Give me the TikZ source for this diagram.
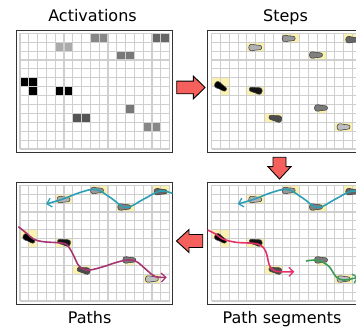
\documentclass[tikz,border=0pt]{standalone}
\usepackage{fontspec}
\setmainfont{DejaVu Sans}
\usetikzlibrary{arrows.meta}
\definecolor{hl}{HTML}{FBF1B0}
\definecolor{gridc}{HTML}{CFCFCF}
\definecolor{arrowred}{HTML}{F6605C}
\definecolor{tealc}{HTML}{2C9FB5}
\definecolor{berry}{HTML}{A83472}
\definecolor{pinkc}{HTML}{E5336A}
\definecolor{greenc}{HTML}{3B9B55}
\tikzset{
  gridline/.style={draw=gridc, line width=1.1pt},
  panelborder/.style={draw=black!80, line width=0.8pt},
  footline/.style={draw=black!75, line width=0.55pt},
  blockarrow/.style={fill=arrowred, draw=black, line width=0.9pt, line join=miter},
  curve/.style={line width=1.6pt, -{Straight Barb[length=4.5pt,width=9pt,line width=1.3pt]}},
  titletext/.style={anchor=base, inner sep=0pt, font=\fontsize{16}{19}\selectfont},
  pics/foot/.style={code={
    \filldraw[footline, fill=#1] (-0.74,0) .. controls (-0.74,-0.42) and (-0.35,-0.42) .. (-0.05,-0.3)
      .. controls (0.25,-0.2) and (0.74,-0.37) .. (0.74,0)
      .. controls (0.74,0.37) and (0.25,0.2) .. (-0.05,0.3)
      .. controls (-0.35,0.42) and (-0.74,0.42) .. cycle;}}
}
\newcommand\actcell[3]{\fill[#3] (#1,#2) rectangle ++(1,1);}
\newcommand\gridlines{%
  \foreach \k in {0,...,17} {\draw[gridline] (\k,0) -- (\k,13);}
  \foreach \j in {0,...,13} {\draw[gridline] (0,\j) -- (17,\j);}
  \draw[panelborder] (-0.45,-0.29) rectangle (17.35,13.34);}
\newcommand\hlcells{%
  \foreach \a/\b in {8/0,9/0,15/0,16/0,4/1,5/1,11/2,12/2,0/5,1/5,1/6,4/6,5/6,12/8,6/9,7/9,14/10,15/10}
    {\actcell{\a}{\b}{hl}}}
\newcommand\feet{%
  \pic at (8.75,0.58) {foot=black!40};
  \pic at (15.97,0.72) {foot=black!60};
  \pic at (4.95,1.6) {foot=black!30};
  \pic at (11.85,2.44) {foot=black!50};
  \pic[rotate=-32] at (1.02,6.0) {foot=black};
  \pic[rotate=168] at (5.0,6.4) {foot=black!92};
  \pic at (12.42,8.39) {foot=black!52};
  \pic[rotate=168] at (7.23,9.55) {foot=black!70};
  \pic at (14.98,10.53) {foot=black!25};}
\newcommand\tealcurve{%
  \draw[curve, tealc] plot[smooth, tension=0.6] coordinates {(172.5,193.5) (160,191) (143,199.5) (126,207.5) (111,198) (96,189.5) (80,192.5) (63,199) (46,204)};}
\begin{document}
\begin{tikzpicture}[x=1pt,y=-1pt]
\useasboundingbox (0,0) rectangle (356,331);
\clip (0,0) rectangle (356,331);
% Panel A: Activations
\begin{scope}[shift={(20,33.3)}, x=8.8pt, y=-8.9pt]
  \actcell{8}{0}{black!47}\actcell{9}{0}{black!47}
  \actcell{15}{0}{black!60}\actcell{16}{0}{black!60}
  \actcell{4}{1}{black!33}\actcell{5}{1}{black!33}
  \actcell{11}{2}{black!53}\actcell{12}{2}{black!53}
  \actcell{0}{5}{black}\actcell{1}{5}{black}\actcell{1}{6}{black}
  \actcell{4}{6}{black}\actcell{5}{6}{black}
  \actcell{12}{8}{black!53}
  \actcell{6}{9}{black!67}\actcell{7}{9}{black!67}
  \actcell{14}{10}{black!47}\actcell{15}{10}{black!47}
  \gridlines
\end{scope}
% Panel B: Steps
\begin{scope}[shift={(211.7,33.3)}, x=8.8pt, y=-8.9pt]
  \hlcells
  \gridlines
  \feet
\end{scope}
% Panel C: Paths
\begin{scope}[shift={(20,185.3)}, x=8.8pt, y=-8.9pt]
  \hlcells
  \gridlines
  \feet
\end{scope}
\tealcurve
\draw[curve, berry] plot[smooth, tension=0.6] coordinates {(18.3,226.7) (26.7,233.3) (33.3,239) (43.3,241.7) (63.3,243.3) (68.8,247) (73.3,255) (78.3,265) (83.3,269) (90,270) (103.3,266.7) (116.7,262.3) (128.3,260) (136.7,261.7) (146.7,270) (155,276.5) (166.7,277.3)};
% Panel D: Path segments
\begin{scope}[shift={(211.7,185.3)}, x=8.8pt, y=-8.9pt]
  \hlcells
  \gridlines
  \feet
\end{scope}
\begin{scope}[shift={(191.7,0)}]
  \tealcurve
  \draw[curve, pinkc] plot[smooth, tension=0.6] coordinates {(16,230) (24.3,234.3) (31,239) (44.3,242.3) (61,243.3) (69.3,245.5) (74.3,252) (77.6,265) (81.6,270) (87.6,271.7) (102.6,271.7)};
  \draw[curve, greenc] plot[smooth, tension=0.6] coordinates {(114.3,261) (124.3,260) (131,262.3) (137.6,266.7) (144.3,276.7) (151,280) (157.6,279.3) (166.7,277.3)};
\end{scope}
% Block arrows
\draw[blockarrow] (176.7,81.2) -- (193.3,81.2) -- (193.3,76) -- (205,87.5) -- (193.3,99) -- (193.3,93.8) -- (176.7,93.8) -- cycle;
\draw[blockarrow] (273,157.3) -- (273,166.7) -- (268,166.7) -- (279.5,179) -- (291,166.7) -- (286,166.7) -- (286,157.3) -- cycle;
\draw[blockarrow] (202.7,234.5) -- (189,234.5) -- (189,229.5) -- (176.5,241) -- (189,252.5) -- (189,247.5) -- (202.7,247.5) -- cycle;
% Titles
\node[titletext] (tA) at (92.5,21.7) {Activations};
\node[titletext] (tB) at (285.5,21.7) {Steps};
\node[titletext] (tC) at (89.7,323.5) {Paths};
\node[titletext] (tD) at (282,323.5) {Path segments};
\end{tikzpicture}
\end{document}
